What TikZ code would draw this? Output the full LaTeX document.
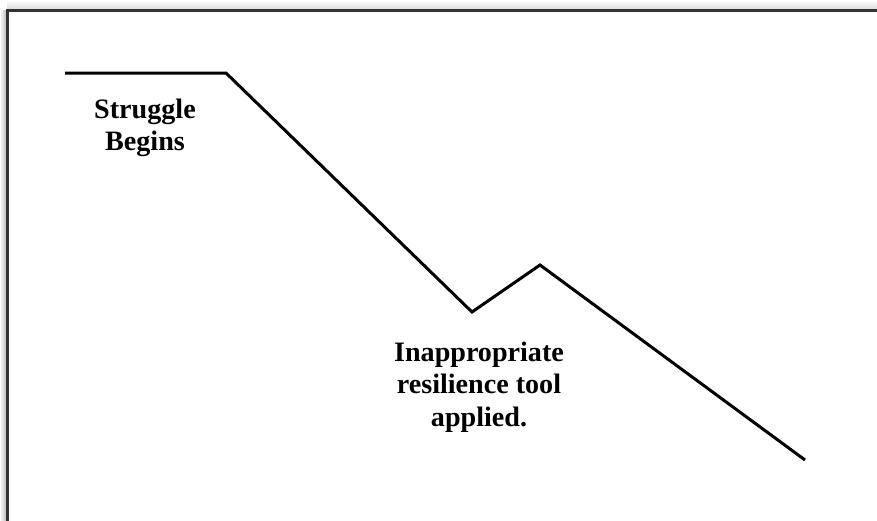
\documentclass[tikz,border=0pt]{standalone}
\usepackage{fontspec}
\setmainfont{Liberation Serif}
\usepackage{tikz}

\begin{document}
\begin{tikzpicture}[x=0.02cm,y=-0.02cm,
    every node/.style={font=\bfseries\fontsize{16}{18.4}\selectfont,align=center},
    curve/.style={line width=0.06cm,line join=miter}]
  \useasboundingbox (0,0) rectangle (877,521);
  % frame with soft shadow
  \shade[left color=white,right color=gray!60] (0,10) rectangle (7,521);
  \shade[top color=white,bottom color=gray!30] (7,0) rectangle (877,10);
  \draw[line width=0.045cm,black!80] (7.5,521) -- (7.5,10.5) -- (877,10.5);
  % course of the struggle
  \coordinate (start) at (65,73);
  \coordinate (begin) at (226,73);
  \coordinate (low) at (472,312);
  \coordinate (bump) at (540,265);
  \coordinate (end) at (805,460);
  \draw[curve] (start) -- (begin) -- (low) -- (bump) -- (end);
  \node (struggle) at (145,128) {Struggle\\Begins};
  \node (tool) at (479,387) {Inappropriate\\resilience tool\\applied.};
\end{tikzpicture}
\end{document}
